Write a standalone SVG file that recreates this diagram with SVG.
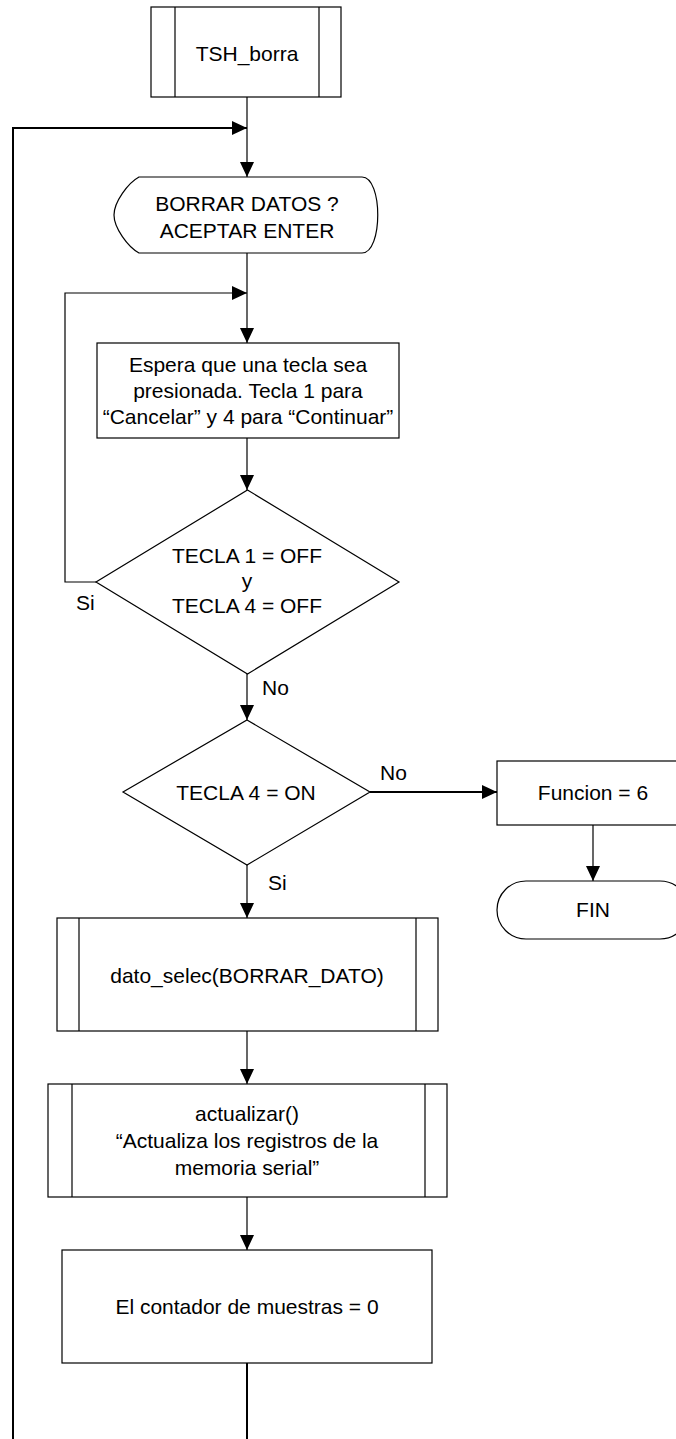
<svg xmlns="http://www.w3.org/2000/svg" width="676" height="1439" viewBox="0 0 676 1439">
<style>
.s{fill:#fff;stroke:#000;stroke-width:1.2}
.c{fill:none;stroke:#000;stroke-width:1.2}
.t{stroke-width:2}
text{font-family:"Liberation Sans",Arial,sans-serif;font-size:21px;fill:#000;text-anchor:middle;dominant-baseline:central}
.l{text-anchor:start}
</style>
<defs>
<marker id="a" markerUnits="userSpaceOnUse" markerWidth="15" markerHeight="14" refX="15" refY="7" orient="auto">
<path d="M0,0 L15,7 L0,14 Z" fill="#000"/>
</marker>
</defs>
<rect width="676" height="1439" fill="#fff"/>
<g id="connectors">
<line class="c" x1="247" y1="97" x2="247" y2="177" marker-end="url(#a)"/>
<polyline class="c t" points="13,1439 13,128 247,128" marker-end="url(#a)"/>
<line class="c" x1="247" y1="253" x2="247" y2="343" marker-end="url(#a)"/>
<polyline class="c" points="96,582 65,582 65,293 247,293" marker-end="url(#a)"/>
<line class="c" x1="247" y1="438" x2="247" y2="490" marker-end="url(#a)"/>
<line class="c" x1="247" y1="674" x2="247" y2="720" marker-end="url(#a)"/>
<line class="c t" x1="370" y1="792" x2="497" y2="792" marker-end="url(#a)"/>
<line class="c" x1="593" y1="825" x2="593" y2="881" marker-end="url(#a)"/>
<line class="c" x1="247" y1="865" x2="247" y2="918" marker-end="url(#a)"/>
<line class="c" x1="247" y1="1031" x2="247" y2="1084" marker-end="url(#a)"/>
<line class="c" x1="247" y1="1197" x2="247" y2="1250" marker-end="url(#a)"/>
<line class="c t" x1="247" y1="1363" x2="247" y2="1439"/>
<text class="l" x="76" y="602">Si</text>
<text class="l" x="262" y="687">No</text>
<text class="l" x="380" y="772">No</text>
<text class="l" x="268" y="882">Si</text>
</g>
<g id="n1">
<rect class="s" x="151" y="7" width="190" height="90"/>
<line class="c" x1="175" y1="7" x2="175" y2="97"/>
<line class="c" x1="319" y1="7" x2="319" y2="97"/>
<text x="247" y="53">TSH_borra</text>
</g>
<g id="n2">
<path class="s" d="M139,177 L362,177 C383,177 383,253 362,253 L139,253 C128,247 114,228 114,215 C114,202 128,183 139,177 Z"/>
<text x="247" y="203">BORRAR DATOS ?</text>
<text x="247" y="230">ACEPTAR ENTER</text>
</g>
<g id="n3">
<rect class="s" x="97" y="343" width="302" height="95"/>
<text x="248" y="364">Espera que una tecla sea</text>
<text x="248" y="390">presionada. Tecla 1 para</text>
<text x="248" y="416">“Cancelar” y 4 para “Continuar”</text>
</g>
<g id="n4">
<polygon class="s" points="247.5,490 399,582 247.5,674 96,582"/>
<text x="247" y="555">TECLA 1 = OFF</text>
<text x="247" y="580">y</text>
<text x="247" y="605">TECLA 4 = OFF</text>
</g>
<g id="n5">
<polygon class="s" points="247,720 370,792 247,865 123,792"/>
<text x="246" y="792">TECLA 4 = ON</text>
</g>
<g id="n6">
<rect class="s" x="497" y="761" width="192" height="64"/>
<text x="593" y="792">Funcion = 6</text>
</g>
<g id="n7">
<rect class="s" x="497" y="881" width="192" height="58" rx="29" ry="29"/>
<text x="593" y="909">FIN</text>
</g>
<g id="n8">
<rect class="s" x="57" y="918" width="381" height="113"/>
<line class="c" x1="79" y1="918" x2="79" y2="1031"/>
<line class="c" x1="416" y1="918" x2="416" y2="1031"/>
<text x="247" y="975">dato_selec(BORRAR_DATO)</text>
</g>
<g id="n9">
<rect class="s" x="48" y="1084" width="399" height="113"/>
<line class="c" x1="72" y1="1084" x2="72" y2="1197"/>
<line class="c" x1="425" y1="1084" x2="425" y2="1197"/>
<text x="247" y="1113">actualizar()</text>
<text x="247" y="1140">“Actualiza los registros de la</text>
<text x="247" y="1167">memoria serial”</text>
</g>
<g id="n10">
<rect class="s" x="62" y="1250" width="370" height="113"/>
<text x="247" y="1306">El contador de muestras = 0</text>
</g>
</svg>
